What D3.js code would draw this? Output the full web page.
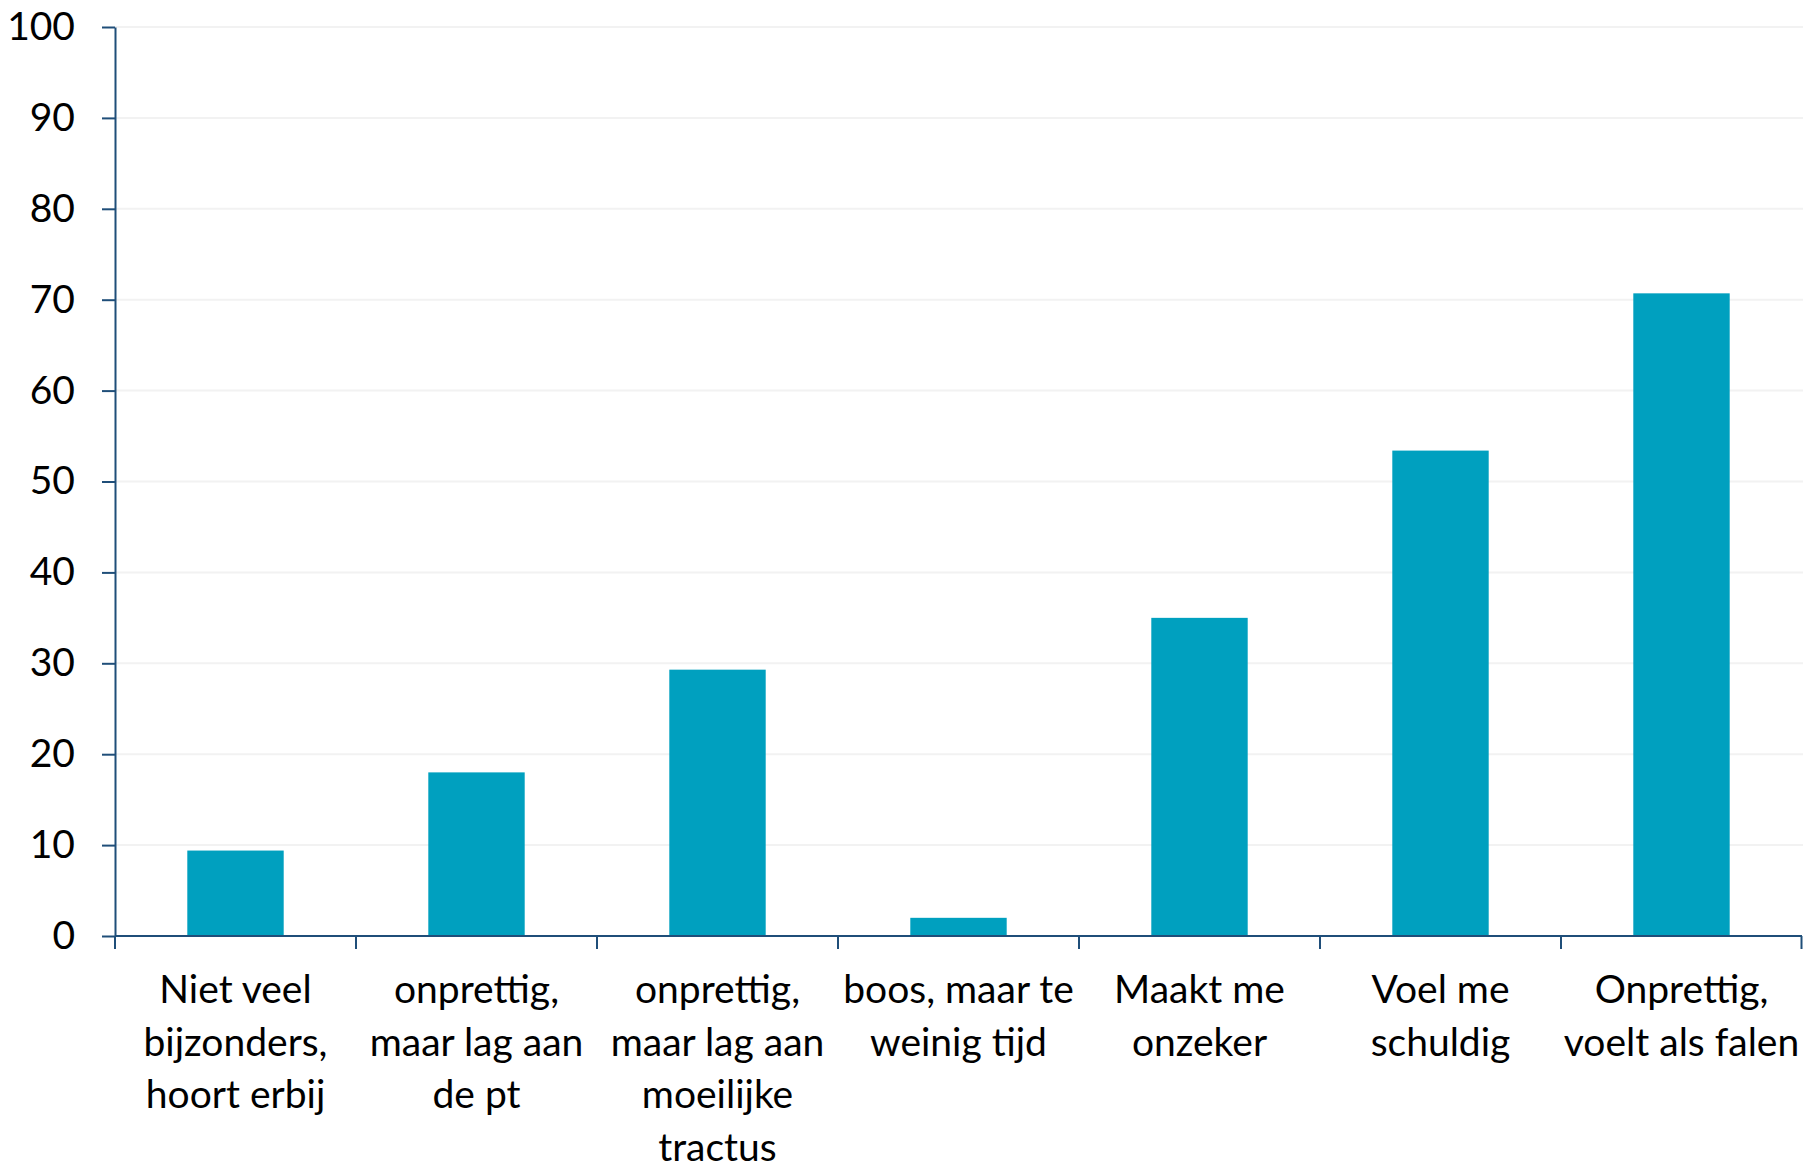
<!DOCTYPE html>
<html>
<head>
<meta charset="utf-8">
<script src="https://cdn.jsdelivr.net/npm/d3@7"></script>
<style>
  html, body { margin: 0; padding: 0; background: #ffffff; }
  svg text { font-family: Lato, "Open Sans", sans-serif; fill: #000; }
</style>
</head>
<body>
<svg id="chart" width="1803" height="1164"></svg>
<script>
// Category labels, one array of lines per bar
const categories = [
  ["Niet veel", "bijzonders,", "hoort erbij"],
  ["onprettig,", "maar lag aan", "de pt"],
  ["onprettig,", "maar lag aan", "moeilijke", "tractus"],
  ["boos, maar te", "weinig tijd"],
  ["Maakt me", "onzeker"],
  ["Voel me", "schuldig"],
  ["Onprettig,", "voelt als falen"]
];
const values = [9.4, 18, 29.3, 2, 35, 53.4, 70.7];
const yTicks = [0, 10, 20, 30, 40, 50, 60, 70, 80, 90, 100];

const margin = { left: 115, right: 1, top: 27, bottom: 228 };
const W = 1803, H = 1164;
const svg = d3.select("#chart");
const fontSize = 39;

const keys = categories.map((c, i) => i);
const x = d3.scaleBand().domain(keys).range([margin.left, W - margin.right]).paddingInner(0.6).paddingOuter(0.3);
const y = d3.scaleLinear().domain([0, 100]).range([H - margin.bottom, margin.top]);

const axisColor = "#1f4e79";

// horizontal gridlines
svg.append("g").selectAll("line").data(yTicks.filter(d => d > 0)).join("line")
  .attr("x1", margin.left).attr("x2", W)
  .attr("y1", d => y(d)).attr("y2", d => y(d))
  .attr("stroke", "#f2f2f2").attr("stroke-width", 2);

// bars
svg.append("g").selectAll("rect").data(values).join("rect")
  .attr("x", (d, i) => x(i))
  .attr("width", x.bandwidth())
  .attr("y", d => y(d))
  .attr("height", d => y(0) - y(d))
  .attr("fill", "#00a0bf");

// y axis
const yAxis = svg.append("g")
  .attr("transform", `translate(${margin.left},0)`)
  .call(d3.axisLeft(y).tickValues(yTicks).tickSize(13).tickPadding(27).tickSizeOuter(0));
yAxis.select(".domain").attr("stroke", axisColor).attr("stroke-width", 2);
yAxis.selectAll(".tick line").attr("stroke", axisColor).attr("stroke-width", 2);
yAxis.selectAll(".tick text").attr("font-size", fontSize).attr("font-family", "Lato, sans-serif").attr("fill", "#000");

// x axis: ticks at category boundaries
const boundaries = d3.range(categories.length + 1).map(i => margin.left + i * x.step());
const xg = svg.append("g");
xg.append("line")
  .attr("x1", margin.left).attr("x2", W - margin.right)
  .attr("y1", y(0)).attr("y2", y(0))
  .attr("stroke", axisColor).attr("stroke-width", 2);
xg.selectAll("line.tk").data(boundaries).join("line").attr("class", "tk")
  .attr("x1", d => Math.min(d, W - 1.5)).attr("x2", d => Math.min(d, W - 1.5))
  .attr("y1", y(0)).attr("y2", y(0) + 13)
  .attr("stroke", axisColor).attr("stroke-width", 2);

// category labels
const lab = svg.append("g").selectAll("text").data(categories).join("text")
  .attr("text-anchor", "middle")
  .attr("font-size", fontSize)
  .attr("x", (d, i) => x(i) + x.bandwidth() / 2)
  .attr("y", y(0) + 67);
lab.selectAll("tspan").data(d => d).join("tspan")
  .attr("x", function() { return this.parentNode.getAttribute("x"); })
  .attr("dy", (d, j) => j === 0 ? 0 : 52.5)
  .text(d => d);
</script>
</body>
</html>
